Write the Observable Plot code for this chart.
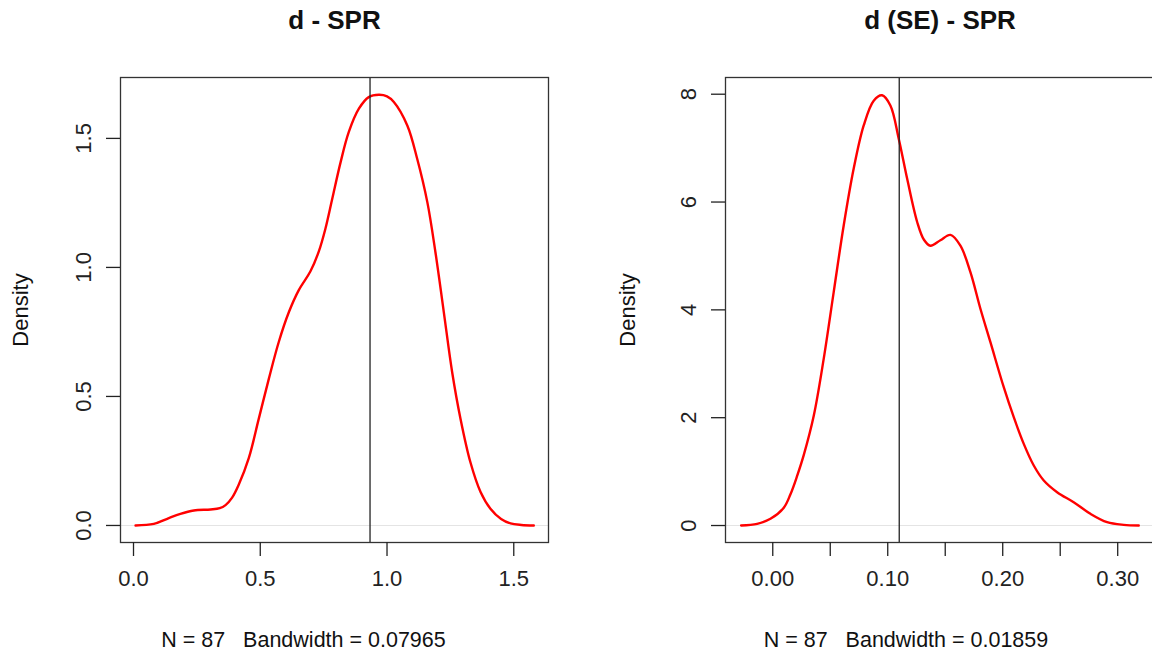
<!DOCTYPE html>
<html><head><meta charset="utf-8">
<script src="https://cdn.jsdelivr.net/npm/d3@7"></script>
<script src="https://cdn.jsdelivr.net/npm/@observablehq/plot@0.6"></script>
<style>
html,body{margin:0;padding:0;background:#fff;overflow:hidden}
#wrap{position:relative;width:1152px;height:659px;overflow:hidden;background:#fff}
#wrap svg{position:absolute;top:0}
</style></head><body><div id="wrap"></div>
<script>
// Panel 1: d - SPR
const title1 = "d - SPR";
const caption1 = "N = 87   Bandwidth = 0.07965";
const dX = [0.008,0.080,0.133,0.185,0.238,0.304,0.340,0.363,0.389,0.415,0.455,0.494,0.534,0.573,0.613,0.652,0.698,0.731,0.757,0.784,0.817,0.849,0.889,0.928,0.968,1.000,1.027,1.080,1.119,1.159,1.191,1.224,1.257,1.290,1.329,1.369,1.408,1.450,1.487,1.530,1.579];
const dY = [0,0.006,0.026,0.045,0.058,0.062,0.067,0.079,0.108,0.158,0.262,0.413,0.569,0.711,0.827,0.912,0.985,1.062,1.150,1.266,1.408,1.524,1.615,1.660,1.669,1.663,1.641,1.550,1.421,1.253,1.059,0.827,0.594,0.413,0.245,0.130,0.065,0.025,0.008,0.002,0];
const dRef = 0.933;
const dXTicks = [0, 0.5, 1.0, 1.5];
const dXLabels = ["0.0", "0.5", "1.0", "1.5"];
const dYTicks = [0, 0.5, 1.0, 1.5];
const dYLabels = ["0.0", "0.5", "1.0", "1.5"];

// Panel 2: d (SE) - SPR
const title2 = "d (SE) - SPR";
const caption2 = "N = 87   Bandwidth = 0.01859";
const seX = [-0.0275,-0.0136,-0.002,0.0096,0.0154,0.0212,0.027,0.0357,0.0443,0.053,0.0617,0.0704,0.0791,0.0878,0.0951,0.1023,0.1096,0.1169,0.1256,0.1315,0.1371,0.1458,0.1545,0.1632,0.1719,0.1806,0.1893,0.2009,0.2096,0.2183,0.227,0.2357,0.2473,0.2617,0.2763,0.2908,0.3052,0.3183];
const seY = [0,0.031,0.124,0.33,0.58,0.92,1.31,2.04,3.09,4.33,5.565,6.62,7.42,7.88,7.98,7.79,7.17,6.43,5.63,5.30,5.19,5.29,5.39,5.19,4.70,4.02,3.40,2.565,2.009,1.515,1.113,0.835,0.618,0.432,0.217,0.062,0.012,0];
const seRef = 0.110;
const seXTicks = [0, 0.05, 0.10, 0.15, 0.20, 0.25, 0.30];
const seXLabels = ["0.00", "", "0.10", "", "0.20", "", "0.30"];
const seYTicks = [0, 2, 4, 6, 8];
const seYLabels = ["0", "2", "4", "6", "8"];

const FONT = "'Liberation Sans', Arial, Helvetica, sans-serif";

function panel(o) {
  const pts = o.xs.map((x, i) => ({x, y: o.ys[i]}));
  const xfmt = d => o.xLabels[o.xTicks.findIndex(t => Math.abs(t - d) < 1e-9)];
  const yfmt = d => o.yLabels[o.yTicks.findIndex(t => Math.abs(t - d) < 1e-9)];
  const svg = Plot.plot({
    width: o.width, height: 659,
    marginLeft: o.ml, marginRight: o.mr, marginTop: 77, marginBottom: 117,
    style: {fontFamily: FONT, fontSize: "22px", color: "#222", background: "transparent"},
    x: {domain: o.xDomain},
    y: {domain: o.yDomain},
    marks: [
      Plot.ruleY([0], {stroke: "#e4e4e4", strokeWidth: 1}),
      Plot.line(pts, {x: "x", y: "y", stroke: "#ff0000", strokeWidth: 2.4, curve: "catmull-rom"}),
      Plot.ruleX([o.ref], {stroke: "#222", strokeWidth: 1.3}),
      Plot.frame({stroke: "#333", strokeWidth: 1.3}),
      Plot.axisX({ticks: o.xTicks, tickFormat: xfmt, tickSize: 14, tickPadding: 14, label: null, strokeWidth: 1.3}),
      Plot.axisY({ticks: o.yTicks, tickFormat: yfmt, tickSize: 14, tickPadding: 16, tickRotate: -90, label: null, strokeWidth: 1.3}),
      Plot.text([o.title], {text: d => d, frameAnchor: "top", lineAnchor: "middle", dy: -57, fontSize: 26, fontWeight: "bold", fill: "#111"}),
      Plot.text(["Density"], {text: d => d, frameAnchor: "left", textAnchor: "middle", lineAnchor: "middle", dx: o.ylabDx, rotate: -90, fontSize: 22, fill: "#111"}),
      Plot.text([o.caption], {text: d => d, frameAnchor: "bottom", lineAnchor: "middle", dy: 98, dx: o.capDx, fontSize: 21.5, fill: "#111"})
    ]
  });
  svg.style.left = o.left + "px";
  return svg;
}

const wrap = document.getElementById("wrap");
wrap.appendChild(panel({
  left: 0, width: 576, ml: 120, mr: 28,
  xDomain: [-0.0513, 1.637], yDomain: [-0.066, 1.736],
  xs: dX, ys: dY, ref: dRef,
  xTicks: dXTicks, xLabels: dXLabels, yTicks: dYTicks, yLabels: dYLabels,
  title: title1, caption: caption1, ylabDx: -100, capDx: -31
}));
wrap.appendChild(panel({
  left: 576, width: 600, ml: 149, mr: 22,
  xDomain: [-0.0411, 0.332], yDomain: [-0.315, 8.31],
  xs: seX, ys: seY, ref: seRef,
  xTicks: seXTicks, xLabels: seXLabels, yTicks: seYTicks, yLabels: seYLabels,
  title: title2, caption: caption2, ylabDx: -98, capDx: -34
}));
</script>
</body></html>
